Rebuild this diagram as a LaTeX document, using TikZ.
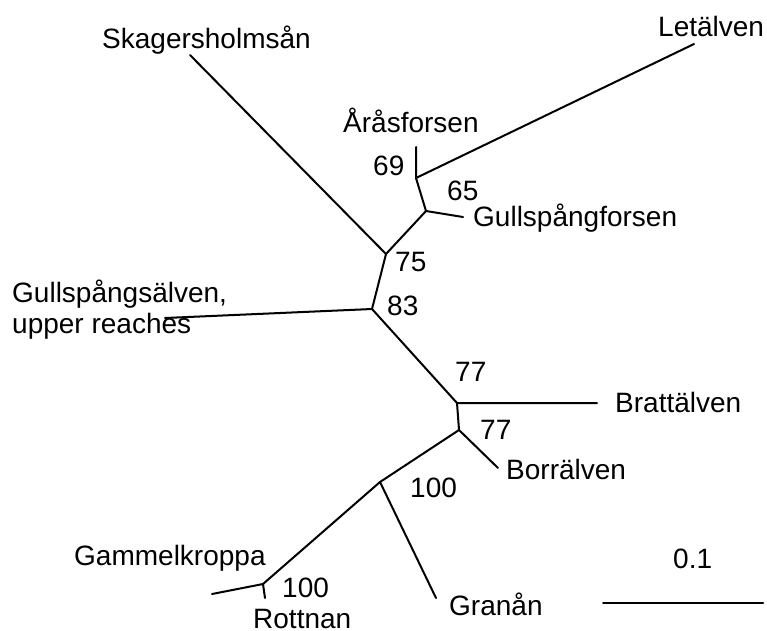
\documentclass[tikz,border=0pt]{standalone}
\usepackage{fontspec}
\setmainfont{Liberation Sans}
\begin{document}
\begin{tikzpicture}[x=1pt,y=-1pt,
  branch/.style={line width=2pt, line cap=round},
  lbl/.style={inner sep=0pt, anchor=base west, font=\fontsize{28}{31}\selectfont},
  boot/.style={inner sep=0pt, anchor=base west, font=\fontsize{28}{31}\selectfont}]
\useasboundingbox (0,0) rectangle (767,630);
% internal nodes
\coordinate (n69) at (416,178);
\coordinate (n65) at (426,211);
\coordinate (n75) at (386,254);
\coordinate (n83) at (372,309);
\coordinate (n77a) at (457,403);
\coordinate (n77b) at (459,430);
\coordinate (n100a) at (380,482);
\coordinate (n100b) at (263,584);
% tips
\coordinate (tArasforsen) at (416,147);
\coordinate (tLetalven) at (694,44);
\coordinate (tGullspangforsen) at (463,217);
\coordinate (tSkagersholmsan) at (190,55);
\coordinate (tGullspangsalven) at (165,318);
\coordinate (tBrattalven) at (597,403);
\coordinate (tBorralven) at (498,468);
\coordinate (tGranan) at (436,598);
\coordinate (tGammelkroppa) at (212,594);
\coordinate (tRottnan) at (265,598);
\coordinate (s0) at (603,603);
\coordinate (s1) at (763,603);
% branches
\draw[branch] (tArasforsen) -- (n69) -- (tLetalven);
\draw[branch] (n69) -- (n65) -- (tGullspangforsen);
\draw[branch] (n65) -- (n75) -- (tSkagersholmsan);
\draw[branch] (n75) -- (n83) -- (tGullspangsalven);
\draw[branch] (n83) -- (n77a) -- (tBrattalven);
\draw[branch] (n77a) -- (n77b) -- (tBorralven);
\draw[branch] (n77b) -- (n100a) -- (tGranan);
\draw[branch] (n100a) -- (n100b) -- (tGammelkroppa);
\draw[branch] (n100b) -- (tRottnan);
\draw[branch] (s0) -- (s1);
% leaf labels
\node[lbl] (Lskag) at (102,48) {Skagersholmsån};
\node[lbl] (Llet) at (658,36) {Letälven};
\node[lbl] (Lara) at (343,132) {Åråsforsen};
\node[lbl] (Lgf) at (473,226) {Gullspångforsen};
\node[lbl, align=left] (Lgs) at (12,333) {Gullspångsälven,\\upper reaches};
\node[lbl] (Lbr) at (615,412) {Brattälven};
\node[lbl] (Lbo) at (506,479) {Borrälven};
\node[lbl] (Lgam) at (74,565) {Gammelkroppa};
\node[lbl] (Lrot) at (253,628) {Rottnan};
\node[lbl] (Lgra) at (449,615) {Granån};
\node[lbl] (Lscale) at (673,568) {0.1};
% bootstrap values
\node[boot] (b69) at (373,175) {69};
\node[boot] (b65) at (447,200) {65};
\node[boot] (b75) at (395,271) {75};
\node[boot] (b83) at (387,315) {83};
\node[boot] (b77a) at (455,381) {77};
\node[boot] (b77b) at (480,439) {77};
\node[boot] (b100a) at (410,497) {100};
\node[boot] (b100b) at (282,597) {100};
\end{tikzpicture}
\end{document}
